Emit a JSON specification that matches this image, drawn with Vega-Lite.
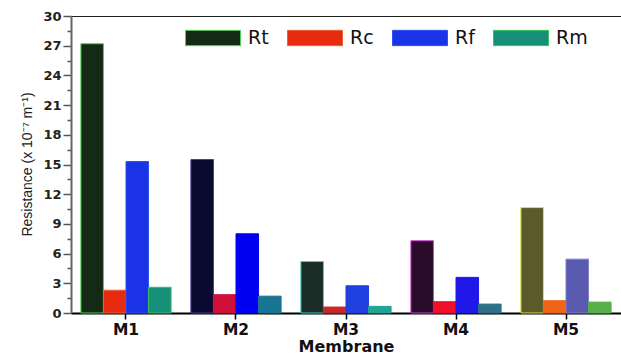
{
  "$schema": "https://vega.github.io/schema/vega-lite/v6.json",
  "width": 550,
  "height": 297,
  "autosize": {"type": "none"},
  "padding": {"left": 71, "top": 16, "right": 0, "bottom": 42},
  "config": {
    "view": {"stroke": "#222", "strokeWidth": 1},
    "font": "DejaVu Sans"
  },
  "data": {
    "values": [
      {"membrane": "M1", "series": "Rt", "bar": "M1 Rt", "value": 27.2},
      {"membrane": "M1", "series": "Rc", "bar": "M1 Rc", "value": 2.3},
      {"membrane": "M1", "series": "Rf", "bar": "M1 Rf", "value": 15.3},
      {"membrane": "M1", "series": "Rm", "bar": "M1 Rm", "value": 2.6},
      {"membrane": "M2", "series": "Rt", "bar": "M2 Rt", "value": 15.5},
      {"membrane": "M2", "series": "Rc", "bar": "M2 Rc", "value": 1.85},
      {"membrane": "M2", "series": "Rf", "bar": "M2 Rf", "value": 8.0},
      {"membrane": "M2", "series": "Rm", "bar": "M2 Rm", "value": 1.7},
      {"membrane": "M3", "series": "Rt", "bar": "M3 Rt", "value": 5.2},
      {"membrane": "M3", "series": "Rc", "bar": "M3 Rc", "value": 0.6},
      {"membrane": "M3", "series": "Rf", "bar": "M3 Rf", "value": 2.75},
      {"membrane": "M3", "series": "Rm", "bar": "M3 Rm", "value": 0.67},
      {"membrane": "M4", "series": "Rt", "bar": "M4 Rt", "value": 7.3},
      {"membrane": "M4", "series": "Rc", "bar": "M4 Rc", "value": 1.14},
      {"membrane": "M4", "series": "Rf", "bar": "M4 Rf", "value": 3.6},
      {"membrane": "M4", "series": "Rm", "bar": "M4 Rm", "value": 0.9},
      {"membrane": "M5", "series": "Rt", "bar": "M5 Rt", "value": 10.65},
      {"membrane": "M5", "series": "Rc", "bar": "M5 Rc", "value": 1.24},
      {"membrane": "M5", "series": "Rf", "bar": "M5 Rf", "value": 5.44},
      {"membrane": "M5", "series": "Rm", "bar": "M5 Rm", "value": 1.1}
    ]
  },
  "mark": {"type": "bar", "strokeWidth": 1},
  "encoding": {
    "x": {
      "field": "membrane",
      "type": "nominal",
      "scale": {"paddingInner": 0.18, "paddingOuter": 0.09},
      "axis": {
        "title": "Membrane",
        "labelAngle": 0,
        "labelFont": "DejaVu Sans",
        "labelFontWeight": "bold",
        "labelFontSize": 15.5,
        "labelColor": "#111",
        "labelPadding": 3,
        "titleFont": "DejaVu Sans",
        "titleFontWeight": "bold",
        "titleFontSize": 16,
        "titleColor": "#111",
        "titlePadding": 1,
        "tickSize": 6,
        "tickColor": "#000",
        "tickWidth": 1.5,
        "domainColor": "#000",
        "domainWidth": 2
      }
    },
    "xOffset": {
      "field": "series",
      "type": "nominal",
      "scale": {"domain": ["Rt", "Rc", "Rf", "Rm"], "paddingInner": 0, "paddingOuter": 0}
    },
    "y": {
      "field": "value",
      "type": "quantitative",
      "scale": {"domain": [0, 30], "nice": false},
      "axis": {
        "title": "Resistance (x 10⁻⁷ m⁻¹)",
        "titleFont": "Liberation Sans",
        "titleFontWeight": "normal",
        "titleFontSize": 14,
        "titleColor": "#222",
        "titleX": -44,
        "titleY": 148,
        "titleAngle": 270,
        "titleAlign": "center",
        "titleBaseline": "middle",
        "values": [0, 1.5, 3, 4.5, 6, 7.5, 9, 10.5, 12, 13.5, 15, 16.5, 18, 19.5, 21, 22.5, 24, 25.5, 27, 28.5, 30],
        "labelExpr": "datum.value % 3 === 0 ? datum.label : ''",
        "labelFont": "DejaVu Sans",
        "labelFontWeight": "bold",
        "labelFontSize": 13,
        "labelColor": "#222",
        "labelPadding": 2,
        "tickSize": {"condition": {"test": "datum.value % 3 === 0", "value": 8}, "value": 4},
        "tickColor": "#555",
        "tickWidth": 1.5,
        "domainColor": "#666",
        "domainWidth": 2,
        "grid": false
      }
    },
    "color": {
      "field": "bar",
      "type": "nominal",
      "scale": {
        "domain": ["M1 Rt", "M1 Rc", "M1 Rf", "M1 Rm", "M2 Rt", "M2 Rc", "M2 Rf", "M2 Rm", "M3 Rt", "M3 Rc", "M3 Rf", "M3 Rm", "M4 Rt", "M4 Rc", "M4 Rf", "M4 Rm", "M5 Rt", "M5 Rc", "M5 Rf", "M5 Rm"],
        "range": ["#152a15", "#e82a10", "#1a33e6", "#17907a", "#0a0a30", "#d0103a", "#0000f2", "#1a7494", "#1c2c26", "#c82828", "#2040e0", "#20a494", "#2a0c2a", "#f0102a", "#2018e8", "#2e7088", "#5a5a2a", "#f06418", "#5a5ab0", "#58b048"]
      },
      "legend": {
        "values": ["M1 Rt", "M1 Rc", "M1 Rf", "M1 Rm"],
        "labelExpr": "slice(datum.label, 3)",
        "title": null,
        "orient": "none",
        "direction": "horizontal",
        "legendX": 126,
        "legendY": 6,
        "padding": 0,
        "symbolType": "M-1.8,-0.5H1.8V0.5H-1.8Z",
        "symbolSize": 934,
        "symbolStrokeColor": "#44cc44",
        "symbolStrokeWidth": 1,
        "labelFont": "DejaVu Sans",
        "labelFontSize": 19,
        "labelColor": "#111",
        "labelOffset": 19,
        "columnPadding": 16
      }
    },
    "stroke": {
      "field": "bar",
      "type": "nominal",
      "scale": {
        "domain": ["M1 Rt", "M1 Rc", "M1 Rf", "M1 Rm", "M2 Rt", "M2 Rc", "M2 Rf", "M2 Rm", "M3 Rt", "M3 Rc", "M3 Rf", "M3 Rm", "M4 Rt", "M4 Rc", "M4 Rf", "M4 Rm", "M5 Rt", "M5 Rc", "M5 Rf", "M5 Rm"],
        "range": ["#4fd04f", "#f06030", "#2a55f0", "#3cc060", "#4040a0", "#d0103a", "#0000f2", "#1a7494", "#40d0c0", "#c82828", "#2040e0", "#20a494", "#d040d0", "#f0102a", "#2018e8", "#2e7088", "#e0e040", "#f06418", "#8080d0", "#58b048"]
      },
      "legend": null
    }
  }
}
